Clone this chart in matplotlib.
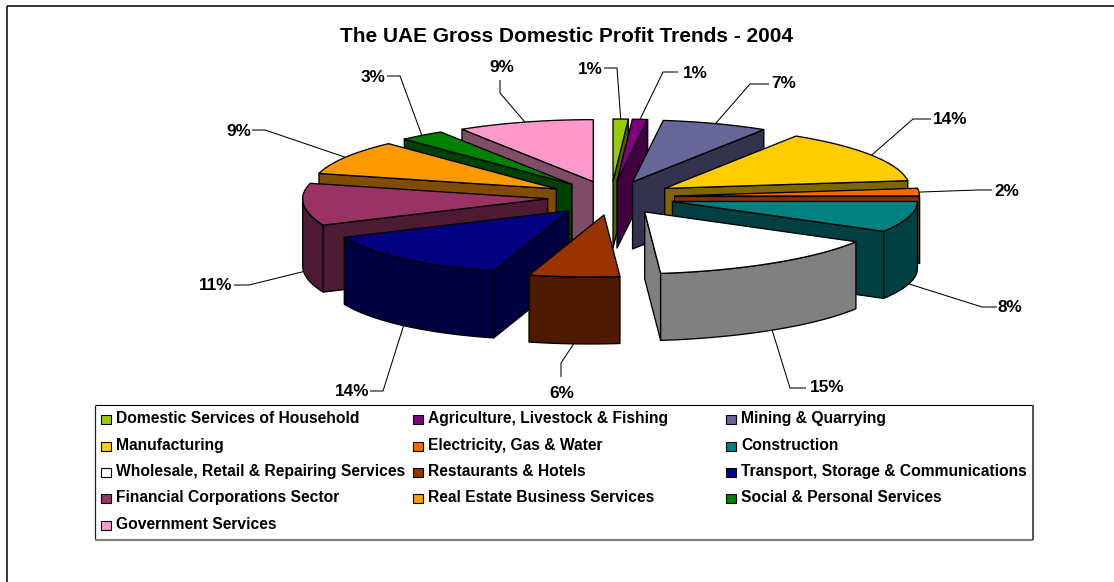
import numpy as np
import matplotlib
matplotlib.use("Agg")
import matplotlib.pyplot as plt
from matplotlib.patches import Polygon, Rectangle

plt.rcParams['font.family'] = ['Liberation Sans', 'DejaVu Sans']

# ---- data ----
title = "The UAE Gross Domestic Profit Trends - 2004"
categories = ["Domestic Services of Household", "Agriculture, Livestock & Fishing",
              "Mining & Quarrying", "Manufacturing", "Electricity, Gas & Water",
              "Construction", "Wholesale, Retail & Repairing Services",
              "Restaurants & Hotels", "Transport, Storage & Communications",
              "Financial Corporations Sector", "Real Estate Business Services",
              "Social & Personal Services", "Government Services"]
shares = [1, 1, 7, 14, 2, 8, 15, 6, 14, 11, 9, 3, 9]
colors = ["#99CC00", "#800080", "#666699", "#FFCC00", "#FF6600", "#008080", "#FFFFFF",
          "#993300", "#000080", "#993366", "#FF9900", "#008000", "#FF99CC"]

# ---- pie projection (pixels) ----
CX, CY = 611, 197
RX, RY = 245, 62
EX, EY_BACK, EY_FRONT = 63.6, 16, 18
FRONT_SHEAR = 15          # perspective drift of the near rim
APEX_SHEAR = 3            # perspective drift of the near apexes
DEPTH = 67
DRAW_ORDER = [12, 11, 10, 9, 8, 0, 1, 2, 3, 4, 5, 6, 7]
LW = 0.95

# label centre, leader elbow and end, whether the leader starts on the lower rim
LABELS = [
    ((590, 69), [(617, 68), (604, 68)], False),
    ((695, 73), [(663, 72), (678, 72)], False),
    ((784, 83), [(750, 84), (769, 84)], False),
    ((950, 120), [(913, 119), (931, 119)], False),
    ((1007, 192), [(977, 190), (992, 190)], False),
    ((1010, 307), [(982, 307), (997, 307)], True),
    ((827, 388), [(790, 388), (806, 388)], True),
    ((562, 394), [(561, 363), (561, 377)], True),
    ((352, 391), [(383, 391), (370, 391)], True),
    ((216, 286), [(249, 285), (234, 285)], True),
    ((239, 132), [(265, 130), (252, 130)], False),
    ((373, 78), [(400, 76), (387, 76)], False),
    ((502, 67), [(500, 93), (500, 80)], False),
]

LEGEND_BOX = (94.5, 405, 938.5, 135)
LEGEND_COLS = [(101, 116), (413, 428), (726, 741)]
LEGEND_ROWS = [419, 446, 472, 498, 525]


def darker(hex_color):
    rgb = matplotlib.colors.to_rgb(hex_color)
    return tuple(c * 0.5 for c in rgb)


fig = plt.figure(figsize=(11.14, 5.82), dpi=100)
ax = fig.add_axes([0, 0, 1, 1])
ax.set_xlim(0, 1114)
ax.set_ylim(582, 0)
ax.axis('off')

# chart frame: top and left only
ax.plot([6.5, 1114], [5.5, 5.5], color="#333333", lw=1.4, zorder=1, solid_capstyle='butt')
ax.plot([6.5, 6.5], [5.5, 582], color="black", lw=1.1, zorder=1, solid_capstyle='butt')

ax.text(566, 36.5, title, ha='center', va='center', fontsize=15, fontweight='bold', color='black')

fractions = np.asarray(shares, dtype=float) / np.sum(shares)
edges = np.concatenate([[0], np.cumsum(fractions)]) * 360.0


def apex(i):
    mid = np.radians((edges[i] + edges[i + 1]) / 2)
    c = np.cos(mid)
    shear = APEX_SHEAR * c * c if c < 0 else 0
    return CX + EX * np.sin(mid) - shear, CY - (EY_BACK if c > 0 else EY_FRONT) * c


def rim(i, deg):
    ax0, ay0 = apex(i)
    a = np.radians(deg)
    c = np.cos(a)
    shear = FRONT_SHEAR * c * c if c < 0 else 0
    return ax0 + RX * np.sin(a) - shear, ay0 - RY * c


z = 3
for i in DRAW_ORDER:
    a1, a2 = edges[i], edges[i + 1]
    top_col, side_col = colors[i], darker(colors[i])
    p = apex(i)
    faces = []
    if np.sin(np.radians(a1)) < -1e-6:
        t = rim(i, a1)
        faces.append([p, t, (t[0], t[1] + DEPTH), (p[0], p[1] + DEPTH)])
    if np.sin(np.radians(a2)) > 1e-6:
        t = rim(i, a2)
        faces.append([p, t, (t[0], t[1] + DEPTH), (p[0], p[1] + DEPTH)])
    lo, hi = max(a1, 90), min(a2, 270)
    if hi > lo:
        arc = [rim(i, d) for d in np.linspace(lo, hi, 40)]
        faces.append(arc + [(x, y + DEPTH) for x, y in arc[::-1]])
    for f in faces:
        ax.add_patch(Polygon(f, closed=True, fc=side_col, ec='black', lw=LW, joinstyle='round', zorder=z))
        z += 1
    arc = [rim(i, d) for d in np.linspace(a1, a2, 60)]
    ax.add_patch(Polygon([p] + arc, closed=True, fc=top_col, ec='black', lw=LW, joinstyle='round', zorder=z))
    z += 1

# percentage labels and leader lines
for i, (lab, pts, front) in enumerate(LABELS):
    mid = (edges[i] + edges[i + 1]) / 2
    sx, sy = rim(i, mid)
    if front:
        sy += DEPTH
    xs = [sx] + [q[0] for q in pts]
    ys = [sy] + [q[1] for q in pts]
    ax.plot(xs, ys, color='black', lw=0.75, zorder=1, solid_capstyle='butt')
    ax.text(lab[0], lab[1], f"{shares[i]}%", ha='center', va='center',
            fontsize=12.4, fontweight='bold', color='black', zorder=200)

# legend
bx, by, bw, bh = LEGEND_BOX
ax.add_patch(Rectangle((bx, by), bw, bh, fc='white', ec='none', zorder=100))
ax.plot([bx, bx + bw], [by, by], color='black', lw=0.8, zorder=101, solid_capstyle='butt')
ax.plot([bx, bx], [by, by + bh], color='#222222', lw=0.9, zorder=101, solid_capstyle='butt')
ax.plot([bx, bx + bw], [by + bh, by + bh], color='#808080', lw=1.6, zorder=101, solid_capstyle='butt')
ax.plot([bx + bw, bx + bw], [by, by + bh], color='#444444', lw=1.3, zorder=101, solid_capstyle='butt')
for i, name in enumerate(categories):
    row, col = i // 3, i % 3
    sw, tx = LEGEND_COLS[col]
    y = LEGEND_ROWS[row]
    ax.add_patch(Rectangle((sw, y - 4.5), 9.5, 9.5, fc=colors[i], ec='black', lw=0.8, zorder=102))
    ax.text(tx, y - 0.5, name, ha='left', va='center', fontsize=11.25, fontweight='bold', color='black', zorder=102)

fig.savefig("out.png", dpi=100, facecolor='white')
